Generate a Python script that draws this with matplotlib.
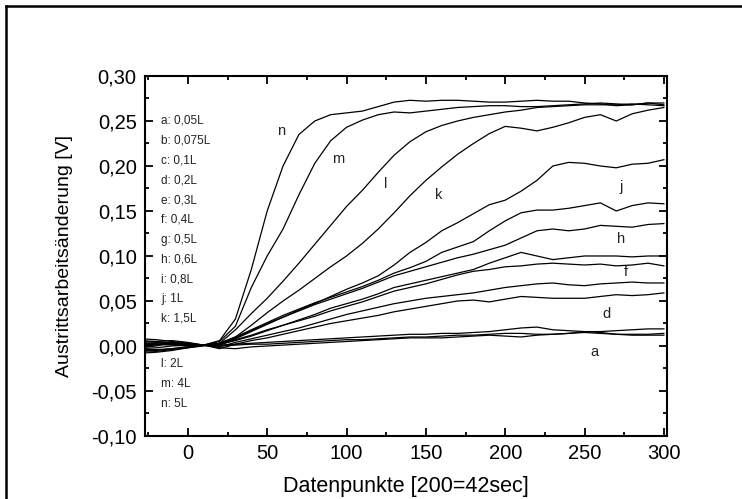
import numpy as np
import matplotlib
matplotlib.use("Agg")
import matplotlib.pyplot as plt
from matplotlib.ticker import MultipleLocator, FuncFormatter
from matplotlib.lines import Line2D

plt.rcParams['font.family'] = ['Liberation Sans', 'DejaVu Sans']

# data points (x axis)
x = [-30, -20, -10, 0, 10, 20, 30, 40, 50, 60, 70, 80, 90, 100, 110, 120, 130, 140,
     150, 160, 170, 180, 190, 200, 210, 220, 230, 240, 250, 260, 270, 280, 290, 300]

a = [0.004, 0.005, 0.003, 0.002, 0.001, 0.000, 0.001, 0.002, 0.002, 0.003, 0.004, 0.005,
     0.006, 0.007, 0.007, 0.008, 0.009, 0.010, 0.010, 0.011, 0.012, 0.012, 0.013, 0.014,
     0.014, 0.013, 0.013, 0.014, 0.015, 0.014, 0.013, 0.012, 0.012, 0.012]
b = [0.008, 0.007, 0.005, 0.003, 0.001, 0.001, 0.002, 0.003, 0.004, 0.005, 0.006, 0.007,
     0.008, 0.009, 0.010, 0.011, 0.012, 0.013, 0.013, 0.014, 0.014, 0.015, 0.016, 0.018,
     0.020, 0.021, 0.018, 0.017, 0.016, 0.016, 0.017, 0.018, 0.019, 0.019]
c = [0.002, 0.003, 0.004, 0.002, 0.001, -0.002, -0.003, -0.001, 0.000, 0.001, 0.002, 0.003,
     0.004, 0.005, 0.006, 0.007, 0.008, 0.009, 0.009, 0.009, 0.010, 0.011, 0.012, 0.011,
     0.010, 0.012, 0.013, 0.014, 0.016, 0.015, 0.013, 0.013, 0.013, 0.014]
d = [-0.003, -0.002, 0.000, 0.001, 0.001, -0.003, 0.002, 0.006, 0.009, 0.013, 0.017, 0.021,
     0.025, 0.028, 0.031, 0.034, 0.038, 0.041, 0.044, 0.047, 0.050, 0.051, 0.049, 0.052,
     0.055, 0.054, 0.053, 0.053, 0.053, 0.055, 0.057, 0.056, 0.057, 0.059]
e = [0.000, 0.001, 0.002, 0.002, 0.001, -0.001, 0.004, 0.008, 0.012, 0.016, 0.020, 0.025,
     0.030, 0.035, 0.039, 0.043, 0.047, 0.050, 0.053, 0.055, 0.057, 0.059, 0.062, 0.065,
     0.067, 0.069, 0.070, 0.068, 0.067, 0.069, 0.070, 0.071, 0.070, 0.070]
f = [-0.006, -0.005, -0.003, -0.001, 0.001, 0.001, 0.007, 0.012, 0.018, 0.023, 0.028, 0.033,
     0.039, 0.044, 0.049, 0.055, 0.061, 0.065, 0.069, 0.074, 0.079, 0.083, 0.085, 0.088,
     0.089, 0.091, 0.092, 0.091, 0.090, 0.091, 0.089, 0.090, 0.092, 0.089]
g = [0.006, 0.005, 0.006, 0.004, 0.001, 0.002, 0.006, 0.011, 0.017, 0.023, 0.029, 0.035,
     0.042, 0.047, 0.052, 0.058, 0.065, 0.069, 0.073, 0.077, 0.081, 0.085, 0.092, 0.098,
     0.104, 0.100, 0.096, 0.098, 0.100, 0.100, 0.100, 0.099, 0.100, 0.100]
h = [-0.008, -0.007, -0.005, -0.002, 0.000, 0.002, 0.009, 0.017, 0.025, 0.032, 0.039, 0.046,
     0.052, 0.058, 0.064, 0.071, 0.078, 0.083, 0.088, 0.093, 0.098, 0.102, 0.107, 0.112,
     0.120, 0.128, 0.130, 0.128, 0.130, 0.134, 0.133, 0.132, 0.135, 0.136]
i = [0.003, 0.002, 0.001, 0.000, 0.001, 0.003, 0.010, 0.018, 0.026, 0.034, 0.041, 0.048,
     0.054, 0.060, 0.066, 0.073, 0.081, 0.087, 0.094, 0.104, 0.110, 0.116, 0.128, 0.139,
     0.148, 0.151, 0.151, 0.153, 0.156, 0.159, 0.150, 0.156, 0.159, 0.158]
j = [-0.002, 0.000, 0.004, 0.003, 0.001, 0.002, 0.008, 0.016, 0.024, 0.032, 0.040, 0.047,
     0.055, 0.063, 0.070, 0.078, 0.090, 0.104, 0.115, 0.128, 0.137, 0.147, 0.157, 0.162,
     0.172, 0.184, 0.200, 0.204, 0.203, 0.200, 0.198, 0.202, 0.203, 0.207]
k = [0.005, 0.004, 0.002, 0.001, 0.001, 0.003, 0.010, 0.023, 0.037, 0.050, 0.062, 0.075,
     0.088, 0.100, 0.114, 0.130, 0.148, 0.167, 0.184, 0.199, 0.213, 0.225, 0.236, 0.244,
     0.242, 0.239, 0.243, 0.248, 0.254, 0.257, 0.250, 0.258, 0.262, 0.265]
l = [-0.004, -0.004, -0.003, -0.001, 0.001, 0.003, 0.018, 0.036, 0.053, 0.072, 0.092, 0.113,
     0.134, 0.155, 0.173, 0.193, 0.212, 0.227, 0.238, 0.245, 0.250, 0.254, 0.257, 0.260,
     0.262, 0.265, 0.266, 0.267, 0.268, 0.268, 0.268, 0.269, 0.268, 0.267]
m = [0.001, 0.002, 0.003, 0.001, 0.001, 0.005, 0.022, 0.065, 0.100, 0.130, 0.168, 0.203,
     0.228, 0.243, 0.251, 0.257, 0.260, 0.259, 0.261, 0.263, 0.265, 0.266, 0.267, 0.267,
     0.266, 0.266, 0.267, 0.268, 0.269, 0.270, 0.269, 0.268, 0.270, 0.270]
n = [-0.005, -0.006, -0.004, -0.002, 0.001, 0.006, 0.030, 0.085, 0.150, 0.200, 0.235, 0.250,
     0.257, 0.259, 0.261, 0.266, 0.271, 0.273, 0.272, 0.273, 0.273, 0.272, 0.271, 0.271,
     0.272, 0.273, 0.272, 0.272, 0.270, 0.269, 0.267, 0.268, 0.270, 0.268]

curves = [a, b, c, d, e, f, g, h, i, j, k, l, m, n]

legend_lines = ['a: 0,05L', 'b: 0,075L', 'c: 0,1L', 'd: 0,2L', 'e: 0,3L', 'f: 0,4L',
                'g: 0,5L', 'h: 0,6L', 'i: 0,8L', 'j: 1L', 'k: 1,5L']
legend_lines2 = ['l: 2L', 'm: 4L', 'n: 5L']

# curve labels: letter, x, y (data coords)
curve_labels = [('n', 59, 0.239), ('m', 95, 0.208), ('l', 125, 0.180), ('k', 158, 0.168),
                ('j', 273, 0.177), ('h', 273, 0.119), ('f', 276, 0.082),
                ('d', 264, 0.036), ('a', 256, -0.007)]

fig = plt.figure(figsize=(7.42, 4.99), dpi=100)
ax = fig.add_axes([0.1954, 0.1263, 0.7036, 0.7214])

for yy in curves:
    ax.plot(x, yy, color='black', lw=0.9)

ax.set_xlim(-27, 302)
ax.set_ylim(-0.1, 0.3)

ax.xaxis.set_major_locator(MultipleLocator(50))
ax.xaxis.set_minor_locator(MultipleLocator(25))
ax.yaxis.set_major_locator(MultipleLocator(0.05))
ax.yaxis.set_minor_locator(MultipleLocator(0.025))
ax.yaxis.set_major_formatter(FuncFormatter(lambda v, p: f"{v:.2f}".replace('.', ',')))
ax.tick_params(which='both', direction='in', top=True, right=True, width=1.3)
ax.tick_params(which='major', length=6, labelsize=14.5)
ax.tick_params(which='minor', length=3)
ax.tick_params(axis='x', which='major', pad=6)
ax.tick_params(axis='y', which='major', pad=6)
for s in ax.spines.values():
    s.set_linewidth(1.5)

ax.set_xlabel('Datenpunkte [200=42sec]', fontsize=15.5, labelpad=9)
ax.set_ylabel('Austrittsarbeitsänderung [V]', fontsize=14, labelpad=13)

for idx, t in enumerate(legend_lines):
    ax.text(0.031, 0.875 - idx * 0.055, t, transform=ax.transAxes, fontsize=8.5,
            va='center', ha='left', color='#222222')
for idx, t in enumerate(legend_lines2):
    ax.text(0.031, 0.2 - idx * 0.055, t, transform=ax.transAxes, fontsize=8.5,
            va='center', ha='left', color='#222222')

for lab, lx, ly in curve_labels:
    ax.text(lx, ly, lab, fontsize=10.5, ha='center', va='center', color='#222222')

# outer frame (left and top edges)
fig.add_artist(Line2D([6 / 742, 6 / 742], [0, 1 - 6 / 499], transform=fig.transFigure,
                      color='black', lw=1.8))
fig.add_artist(Line2D([6 / 742, 1], [1 - 6 / 499, 1 - 6 / 499], transform=fig.transFigure,
                      color='black', lw=1.8))

fig.savefig('out.png', dpi=100)
